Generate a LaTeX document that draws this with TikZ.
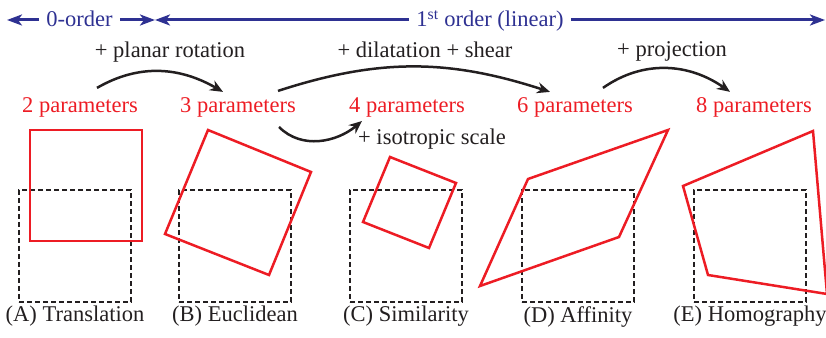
\documentclass[tikz,border=0pt]{standalone}
\usepackage{fontspec}
\setmainfont{Liberation Serif}
\usetikzlibrary{arrows.meta,positioning,calc}
\definecolor{ink}{HTML}{231F20}
\definecolor{warpred}{HTML}{ED1C24}
\definecolor{orderblue}{HTML}{2E3192}

\begin{document}
\begin{tikzpicture}[
  x=1pt, y=1pt,
  font=\fontsize{22.5}{27}\selectfont,
  text=ink,
  ref/.style={draw=ink, line width=2pt, dash pattern=on 5pt off 3pt, minimum size=112pt, inner sep=0pt},
  warp/.style={draw=warpred, line width=2.5pt, line join=miter},
  param/.style={text=warpred, anchor=base, inner sep=2pt},
  caption/.style={inner sep=2pt},
  note/.style={anchor=base, inner sep=2pt},
  olabel/.style={text=orderblue, anchor=base, inner xsep=7pt, inner ysep=2pt},
  order/.style={-{Stealth[length=15pt, width=11pt, inset=4pt]}, draw=orderblue, line width=3pt},
  flow/.style={-{Stealth[length=13pt, width=11pt]}, draw=ink, line width=2.5pt},
]
  \useasboundingbox (0,0) rectangle (826,337);

  % reference squares
  \node[ref] (sqA) at (75,91) {};
  \node[ref] (sqB) at (235,91) {};
  \node[ref] (sqC) at (406,91) {};
  \node[ref] (sqD) at (578,91) {};
  \node[ref] (sqE) at (750,91) {};

  % warped squares
  \draw[warp] (30,96) rectangle (142,207);
  \draw[warp] (208,207) -- (311,165) -- (269,62) -- (165,103) -- cycle;
  \draw[warp] (390,180) -- (456,154) -- (429,89) -- (363,115) -- cycle;
  \draw[warp] (480,51) -- (528,158) -- (668,207) -- (619,100) -- cycle;
  \draw[warp] (683,151) -- (813,206) -- (827,43) -- (708,62) -- cycle;

  \node[caption, below=1pt of sqA] (capA) {(A) Translation};
  \node[caption, below=1pt of sqB] (capB) {(B) Euclidean};
  \node[caption, below=1pt of sqC] (capC) {(C) Similarity};
  \node[caption, below=1pt of sqD] (capD) {(D) Affinity};
  \node[caption, below=1pt of sqE] (capE) {(E) Homography};

  \node[param] (p2) at (80,224) {2 parameters};
  \node[param] (p3) at (238,224) {3 parameters};
  \node[param] (p4) at (407,224) {4 parameters};
  \node[param] (p6) at (575,224) {6 parameters};
  \node[param] (p8) at (754,224) {8 parameters};

  \node[note] (rot) at (170,279) {+ planar rotation};
  \node[note] (dil) at (425,279) {+ dilatation + shear};
  \node[note] (proj) at (672,280) {+ projection};
  \node[note] (iso) at (432,192) {+ isotropic scale};

  \draw[flow] ($(p2.north)+(17,8)$) to[out=30, in=150] ($(p3.north)+(-15,4)$);
  \draw[flow] ($(p3.north)+(40,5)$) to[out=18, in=162] ($(p6.north)+(-25,4)$);
  \draw[flow] ($(p6.north)+(28,8)$) to[out=35, in=145] ($(p8.north)+(-24,4)$);
  \draw[flow] ($(p3.south)+(41,-7)$) to[out=-45, in=-140] ($(p4.south)+(-45,-1)$);

  % order ranges
  \node[olabel] (o0) at (79.5,310) {0-order};
  \node[olabel] (o1) at (490,310) {1\textsuperscript{st} order (linear)};
  \coordinate (farL) at (7,317);
  \coordinate (split) at (155,317);
  \coordinate (farR) at (825,317);
  \draw[order] (o0.west |- farL) -- (farL);
  \draw[order] (o0.east |- split) -- (split);
  \draw[order] (o1.west |- split) -- (split);
  \draw[order] (o1.east |- farR) -- (farR);
\end{tikzpicture}
\end{document}
